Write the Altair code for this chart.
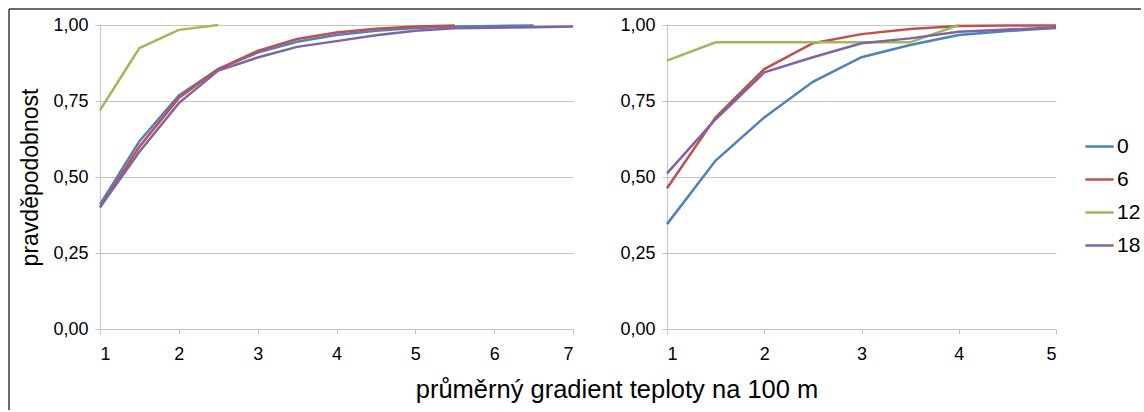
import altair as alt
import pandas as pd

# ---- data ----
SERIES = ["0", "6", "12", "18"]
COLORS = ["#4f81bd", "#c0504d", "#9bbb59", "#8064a2"]

X_LEFT = [1, 1.5, 2, 2.5, 3, 3.5, 4, 4.5, 5, 5.5, 6, 6.5, 7]
L_0 = [0.41, 0.618, 0.768, 0.855, 0.909, 0.945, 0.967, 0.981, 0.99, 0.995, 0.997, 0.998]
L_6 = [0.40, 0.60, 0.76, 0.855, 0.915, 0.954, 0.975, 0.988, 0.995, 0.998]
L_12 = [0.72, 0.924, 0.984, 1.0]
L_18 = [0.40, 0.583, 0.743, 0.85, 0.893, 0.928, 0.947, 0.966, 0.981, 0.989, 0.991, 0.993, 0.995]

X_RIGHT = [1, 1.5, 2, 2.5, 3, 3.5, 4, 4.5, 5]
R_0 = [0.345, 0.554, 0.696, 0.813, 0.894, 0.934, 0.967, 0.98, 0.99]
R_6 = [0.463, 0.696, 0.855, 0.94, 0.97, 0.987, 0.997, 0.998, 0.998]
R_12 = [0.883, 0.943, 0.943, 0.943, 0.943, 0.943, 1.0]
R_18 = [0.512, 0.69, 0.844, 0.894, 0.94, 0.956, 0.978, 0.985, 0.992]

Y_TICKS = [0, 0.25, 0.5, 0.75, 1.0]
X_TICKS_LEFT = [1, 2, 3, 4, 5, 6, 7]
X_TICKS_RIGHT = [1, 2, 3, 4, 5]

Y_TITLE = "pravděpodobnost"
X_TITLE = "průměrný gradient teploty na 100 m"

FONT = "Liberation Sans"
GRID = "#c4c4c4"


def long_df(xs, lists):
    rows = []
    for name, vals in zip(SERIES, lists):
        for x, v in zip(xs, vals):
            rows.append({"x": x, "p": v, "s": name})
    return pd.DataFrame(rows)


left_df = long_df(X_LEFT, [L_0, L_6, L_12, L_18])
right_df = long_df(X_RIGHT, [R_0, R_6, R_12, R_18])

color = alt.Color(
    "s:N",
    scale=alt.Scale(domain=SERIES, range=COLORS),
    legend=alt.Legend(title=None),
)

y_label_expr = "replace(format(datum.value, '.2f'), '.', ',')"


def panel(df, xmax, xticks, width, show_title):
    yaxis = alt.Axis(
        values=Y_TICKS,
        labelExpr=y_label_expr,
        title=Y_TITLE if show_title else None,
        titlePadding=10,
    )
    lines = alt.Chart(df).mark_line(strokeWidth=2.5).encode(
        x=alt.X(
            "x:Q",
            scale=alt.Scale(domain=[1, xmax], nice=False, zero=False),
            axis=alt.Axis(values=xticks, format="d", title=None, grid=False),
        ),
        y=alt.Y("p:Q", scale=alt.Scale(domain=[0, 1], nice=False), axis=yaxis),
        color=color,
        detail="s:N",
        order="x:Q",
    )
    return lines.properties(width=width, height=304)


left = panel(left_df, 7, X_TICKS_LEFT, 473, True)
right = panel(right_df, 5, X_TICKS_RIGHT, 389, False)

one = pd.DataFrame({"t": [X_TITLE]})
frame_top = alt.Chart(one).mark_rule(color="#3a3a3a", strokeWidth=1.5).encode(
    x=alt.value(-91), x2=alt.value(1041), y=alt.value(-16)
)
frame_left = alt.Chart(one).mark_rule(color="#3a3a3a", strokeWidth=1.5).encode(
    x=alt.value(-91), y=alt.value(-16), y2=alt.value(385)
)
xtitle = alt.Chart(one).mark_text(
    font=FONT, fontSize=25.5, baseline="middle", align="center", color="#000"
).encode(text="t:N", x=alt.value(517), y=alt.value(365))

left_full = alt.layer(frame_top, frame_left, left, xtitle)

chart = alt.hconcat(left_full, right, spacing=94, bounds="flush").properties(
    padding={"left": 8, "top": 8, "right": 0, "bottom": 0}
).configure_view(stroke=None).configure_axis(
    labelFont=FONT,
    titleFont=FONT,
    labelFontSize=18,
    titleFontSize=23,
    titleFontWeight="normal",
    labelColor="#000",
    titleColor="#000",
    domainColor=GRID,
    tickColor=GRID,
    gridColor=GRID,
    tickSize=5,
    labelPadding=7,
).configure_axisX(labelPadding=11).configure_legend(
    orient="none",
    legendX=984,
    legendY=106,
    symbolType="stroke",
    symbolSize=800,
    symbolStrokeWidth=2.5,
    labelFont=FONT,
    labelFontSize=21,
    labelColor="#000",
    labelOffset=2,
    rowPadding=7,
)

chart.save("out.html", embed_options={"renderer": "svg", "actions": False})
